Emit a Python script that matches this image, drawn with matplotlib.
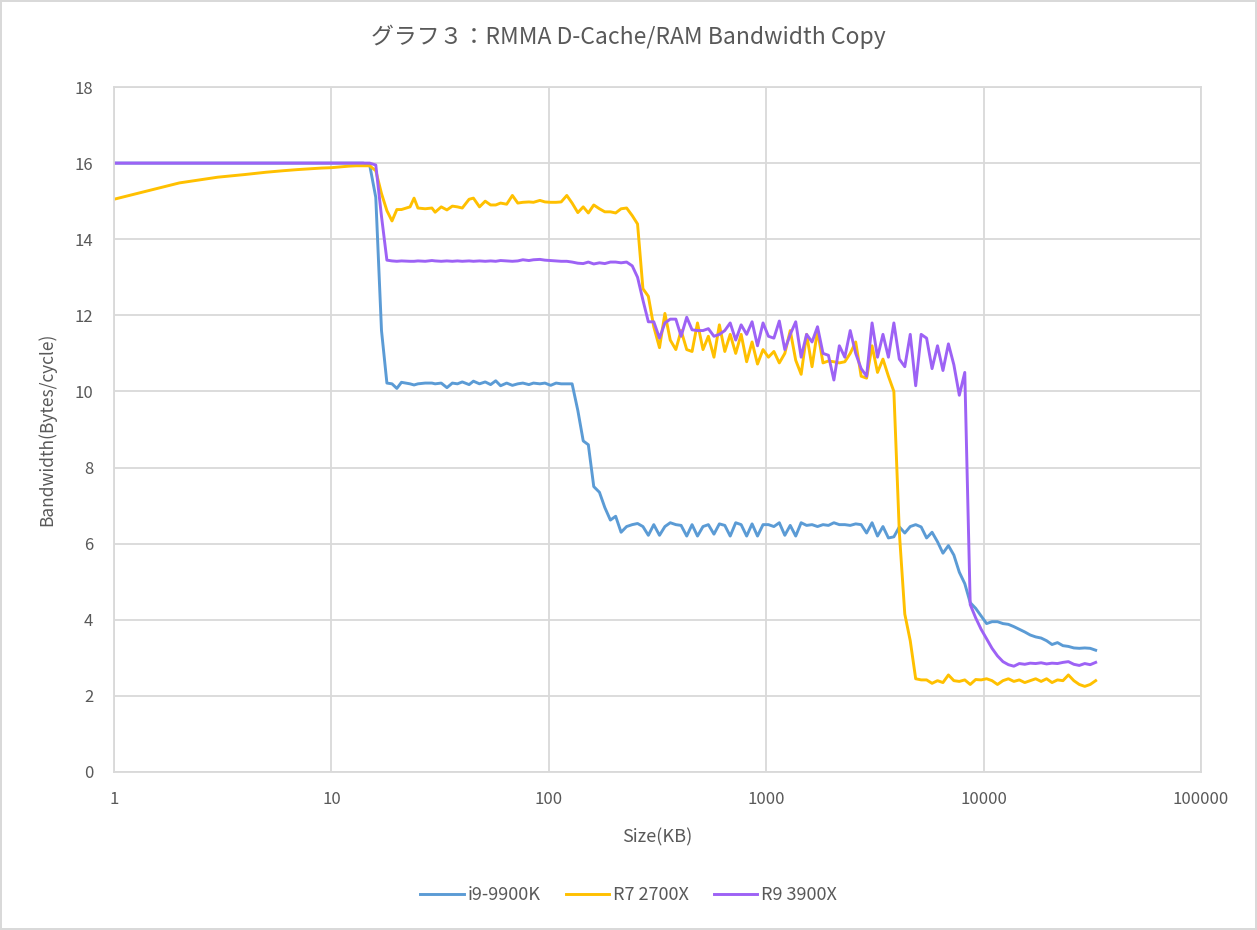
import matplotlib
matplotlib.use("Agg")
import matplotlib.pyplot as plt
from matplotlib.ticker import FixedLocator, FixedFormatter, NullLocator

plt.rcParams['font.family'] = ['Noto Sans CJK JP', 'DejaVu Sans']

title = "グラフ３：RMMA D-Cache/RAM Bandwidth Copy"
x_label = "Size(KB)"
y_label = "Bandwidth(Bytes/cycle)"
series_names = ["i9-9900K", "R7 2700X", "R9 3900X"]
series_colors = ["#5B9BD5", "#FFC000", "#9D62F5"]

sizes_kb = [1, 2, 3, 4, 5, 6, 7, 8, 9, 10, 11, 12, 13, 14, 15,
            16, 17, 18, 19, 20, 21, 23, 24, 25, 27, 29, 30,
            32, 34, 36, 38, 40, 43, 45, 48, 51, 54, 57, 60,
            64, 68, 72, 76, 81, 85, 91, 96, 102, 108, 114, 121,
            128, 136, 144, 152, 161, 171, 181, 192, 203, 215, 228, 242,
            256, 271, 287, 304, 323, 342, 362, 384, 406, 431, 456, 483,
            512, 542, 575, 609, 645, 683, 724, 767, 813, 861, 912, 967,
            1024, 1085, 1149, 1218, 1290, 1367, 1448, 1534, 1625, 1722, 1825, 1933,
            2048, 2170, 2299, 2435, 2580, 2734, 2896, 3069, 3251, 3444, 3649, 3866,
            4096, 4340, 4598, 4871, 5161, 5468, 5793, 6137, 6502, 6889, 7298, 7732,
            8192, 8679, 9195, 9742, 10321, 10935, 11585, 12274, 13004, 13777, 14596, 15464,
            16384, 17358, 18390, 19484, 20643, 21870, 23170, 24548, 26008, 27554, 29193, 30929,
            32768]

i9_9900k = [16.0, 16.0, 16.0, 16.0, 16.0, 16.0, 16.0, 16.0, 16.0, 16.0, 16.0, 16.0, 16.0, 16.0, 15.95,
            15.1, 11.6, 10.22, 10.2, 10.08, 10.24, 10.2, 10.17, 10.2, 10.22, 10.22, 10.2,
            10.22, 10.1, 10.22, 10.2, 10.25, 10.18, 10.27, 10.2, 10.25, 10.18, 10.28, 10.15,
            10.22, 10.16, 10.2, 10.22, 10.18, 10.22, 10.2, 10.22, 10.16, 10.22, 10.2, 10.2,
            10.2, 9.5, 8.7, 8.6, 7.5, 7.35, 6.95, 6.62, 6.72, 6.3, 6.45, 6.5,
            6.53, 6.45, 6.22, 6.5, 6.22, 6.45, 6.55, 6.5, 6.48, 6.2, 6.5, 6.2,
            6.45, 6.5, 6.25, 6.52, 6.48, 6.2, 6.55, 6.5, 6.2, 6.52, 6.2, 6.5,
            6.5, 6.45, 6.55, 6.22, 6.48, 6.2, 6.55, 6.48, 6.5, 6.45, 6.5, 6.48,
            6.55, 6.5, 6.5, 6.48, 6.52, 6.5, 6.28, 6.55, 6.2, 6.45, 6.15, 6.18,
            6.44, 6.28, 6.45, 6.5, 6.44, 6.15, 6.3, 6.05, 5.75, 5.95, 5.7, 5.25,
            4.95, 4.45, 4.3, 4.1, 3.9, 3.95, 3.95, 3.9, 3.88, 3.82, 3.75, 3.68,
            3.6, 3.55, 3.52, 3.45, 3.35, 3.4, 3.32, 3.3, 3.26, 3.25, 3.26, 3.25,
            3.2]

r7_2700x = [15.05, 15.48, 15.63, 15.7, 15.76, 15.8, 15.83, 15.85, 15.87, 15.88, 15.9, 15.92, 15.93, 15.93, 15.93,
            15.8, 15.2, 14.75, 14.48, 14.78, 14.78, 14.85, 15.08, 14.82, 14.8, 14.82, 14.71,
            14.85, 14.77, 14.87, 14.85, 14.82, 15.05, 15.08, 14.85, 15.0, 14.9, 14.9, 14.95,
            14.92, 15.15, 14.95, 14.97, 14.98, 14.97, 15.02, 14.98, 14.97, 14.97, 14.98, 15.15,
            14.95, 14.7, 14.85, 14.69, 14.9, 14.8, 14.72, 14.72, 14.69, 14.8, 14.82, 14.62,
            14.4, 12.7, 12.5, 11.7, 11.15, 12.05, 11.35, 11.1, 11.6, 11.1, 11.05, 11.8,
            11.1, 11.45, 10.9, 11.75, 11.05, 11.5, 11.0, 11.5, 10.78, 11.3, 10.72, 11.1,
            10.9, 11.05, 10.75, 11.0, 11.6, 10.82, 10.45, 11.5, 10.65, 11.6, 10.75, 10.8,
            10.78, 10.75, 10.78, 11.0, 11.3, 10.4, 10.35, 11.2, 10.5, 10.85, 10.4, 10.0,
            6.3, 4.15, 3.45, 2.45, 2.42, 2.42, 2.33, 2.4, 2.35, 2.55, 2.4, 2.38,
            2.42, 2.3, 2.43, 2.42, 2.45, 2.4, 2.3, 2.4, 2.45, 2.38, 2.42, 2.35,
            2.4, 2.45, 2.38, 2.45, 2.35, 2.42, 2.4, 2.55, 2.4, 2.3, 2.25, 2.3,
            2.4]

r9_3900x = [16.0, 16.0, 16.0, 16.0, 16.0, 16.0, 16.0, 16.0, 16.0, 16.0, 16.0, 16.0, 16.0, 16.0, 16.0,
            15.95, 14.6, 13.45, 13.43, 13.42, 13.43, 13.42, 13.42, 13.43, 13.42, 13.44, 13.43,
            13.42, 13.43, 13.42, 13.43, 13.42, 13.43, 13.42, 13.43, 13.42, 13.43, 13.42, 13.44,
            13.43, 13.42, 13.43, 13.46, 13.44, 13.46, 13.47, 13.45, 13.44, 13.43, 13.42, 13.42,
            13.4, 13.37, 13.36, 13.4, 13.35, 13.38, 13.36, 13.4, 13.4, 13.38, 13.4, 13.3,
            13.0, 12.4, 11.83, 11.83, 11.4, 11.8, 11.9, 11.9, 11.45, 11.95, 11.62, 11.6,
            11.6, 11.65, 11.45, 11.5, 11.6, 11.8, 11.35, 11.75, 11.5, 11.83, 11.2, 11.8,
            11.45, 11.4, 11.85, 11.1, 11.5, 11.83, 10.9, 11.5, 11.3, 11.7, 11.0, 10.95,
            10.3, 11.2, 10.9, 11.6, 11.0, 10.6, 10.4, 11.8, 10.9, 11.5, 10.9, 11.8,
            10.85, 10.65, 11.5, 10.15, 11.5, 11.4, 10.6, 11.2, 10.55, 11.25, 10.7, 9.9,
            10.5, 4.4, 4.05, 3.75, 3.5, 3.25, 3.05, 2.9, 2.82, 2.78, 2.85, 2.83,
            2.86, 2.85, 2.87, 2.84, 2.86, 2.85, 2.88, 2.9, 2.83, 2.8, 2.85, 2.82,
            2.88]

x_ticks = [1, 10, 100, 1000, 10000, 100000]
x_tick_labels = ["1", "10", "100", "1000", "10000", "100000"]
y_ticks = [0, 2, 4, 6, 8, 10, 12, 14, 16, 18]

text_color = "#595959"
grid_color = "#D9D9D9"

fig = plt.figure(figsize=(12.57, 9.30), dpi=100)
fig.patch.set_facecolor("white")
fig.patch.set_edgecolor(grid_color)
fig.patch.set_linewidth(1.5)

ax = fig.add_axes([114 / 1257, 1 - 772 / 930, (1201 - 114) / 1257, (772 - 87) / 930])
for name, vals, col in zip(series_names, [i9_9900k, r7_2700x, r9_3900x], series_colors):
    ax.plot(sizes_kb, vals, color=col, linewidth=2.1, label=name, solid_joinstyle="round")

ax.set_xscale("log")
ax.set_xlim(1, 100000)
ax.set_ylim(0, 18)
ax.xaxis.set_major_locator(FixedLocator(x_ticks))
ax.xaxis.set_major_formatter(FixedFormatter(x_tick_labels))
ax.xaxis.set_minor_locator(NullLocator())
ax.set_yticks(y_ticks)
ax.tick_params(axis="both", length=0, labelsize=12, colors=text_color)
ax.tick_params(axis="x", pad=14)
ax.tick_params(axis="y", pad=15)
ax.grid(True, color=grid_color, linewidth=1.3)
ax.set_axisbelow(True)
for s in ax.spines.values():
    s.set_color(grid_color)
    s.set_linewidth(1.3)

ax.set_xlabel(x_label, fontsize=13, color=text_color, labelpad=14)
ax.set_ylabel(y_label, fontsize=12.5, color=text_color, labelpad=13)
fig.text(0.5, 1 - 37 / 930, title, ha="center", va="center", fontsize=16.5, color=text_color)

leg = fig.legend(loc="center", bbox_to_anchor=(0.5, 1 - 895 / 930), ncol=3, frameon=False,
                 fontsize=13, handlelength=2.4, columnspacing=1.4, handletextpad=0.2)
for t in leg.get_texts():
    t.set_color(text_color)

fig.savefig("out.png", dpi=100)
